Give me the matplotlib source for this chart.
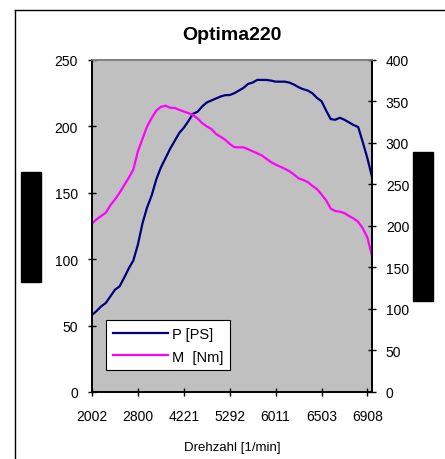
import matplotlib
matplotlib.use("Agg")
import matplotlib.pyplot as plt
from matplotlib.patches import Rectangle
from matplotlib.lines import Line2D

plt.rcParams['font.family'] = ['Liberation Sans', 'DejaVu Sans']

# x axis: measurement points, labelled every 10th point with the rpm
tick_labels = ["2002", "2800", "4221", "5292", "6011", "6503", "6908"]
tick_every = 10

# power P [PS], left axis
power = [58, 61, 64.5, 67, 72, 77, 79.5, 86, 93, 99,
         111, 127, 139, 148, 160, 169, 176, 183, 189, 195,
         199, 204, 209.5, 211, 215, 218, 219.5, 221, 222.5, 223.5,
         223.6, 225, 227, 229, 232, 233, 235, 235, 235, 234.5,
         233.7, 233.7, 233.7, 233, 231.5, 229.5, 228, 227, 225, 221.5,
         219, 212, 205.5, 205, 206.5, 205, 203, 201, 199.5, 188,
         176, 162]

# torque M [Nm], right axis
torque = [203, 208, 212, 216, 225, 232, 240, 249, 258, 268,
          290, 305, 320, 330, 339, 343.5, 345, 342.5, 342.2, 340,
          338, 336, 333.7, 329.5, 324, 320, 317, 311, 307.5, 304,
          299, 295, 294.8, 294.8, 292.5, 290, 287.5, 285, 281, 277,
          274, 271.5, 269, 266, 262, 257.5, 255.5, 253, 248.5, 244.5,
          238, 231, 221, 218, 217.3, 215.5, 212, 209, 205, 197,
          186, 164]

x = list(range(len(power)))

fig = plt.figure(figsize=(4.45, 4.6), dpi=100)
ax = fig.add_axes([92 / 445, 1 - 393 / 460, 280 / 445, 332 / 460])
ax.set_facecolor('#C0C0C0')
ax2 = ax.twinx()

l1, = ax.plot(x, power, color='#000080', lw=1.6, label='P [PS]')
l2, = ax2.plot(x, torque, color='#FF00FF', lw=1.6, label='M  [Nm]')

ax.set_xlim(0, len(x) - 1)
ax.set_ylim(0, 250)
ax2.set_ylim(0, 400)
ax.set_xticks(x[::tick_every])
ax.set_xticklabels(tick_labels)
ax.set_yticks(range(0, 251, 50))
ax2.set_yticks(range(0, 401, 50))

for a in (ax, ax2):
    a.tick_params(direction='inout', length=6, width=1, labelsize=10, colors='black')
    for s in a.spines.values():
        s.set_color('black')
        s.set_linewidth(1.2)
    a.spines['top'].set_color('#808080')
ax.tick_params(axis='x', pad=9)
ax.tick_params(axis='y', pad=7)
ax2.tick_params(axis='y', pad=7)

ax.set_xlabel('Drehzahl [1/min]', fontsize=9.5, labelpad=13)
ax.set_title('Optima220', fontsize=14, fontweight='bold', pad=15)

leg = ax2.legend(handles=[l1, l2], loc='lower left', bbox_to_anchor=(0.05, 0.066),
                 borderaxespad=0, fancybox=False, framealpha=1, edgecolor='black',
                 fontsize=10.5, handlelength=3.8, handletextpad=0.3,
                 borderpad=0.45, labelspacing=0.6)
leg.get_frame().set_linewidth(0.8)

# outer chart border (top and left only visible)
fig.add_artist(Line2D([14.5 / 445, 14.5 / 445], [0, 1 - 10.5 / 460], color='black', lw=1))
fig.add_artist(Line2D([14.5 / 445, 1], [1 - 10.5 / 460, 1 - 10.5 / 460], color='black', lw=1))

# blacked-out axis titles
fig.add_artist(Rectangle((21 / 445, 1 - 283 / 460), 20 / 445, 110 / 460,
                         transform=fig.transFigure, color='black'))
fig.add_artist(Rectangle((413 / 445, 1 - 302 / 460), 20 / 445, 149 / 460,
                         transform=fig.transFigure, color='black'))

fig.savefig('out.png', dpi=100)
